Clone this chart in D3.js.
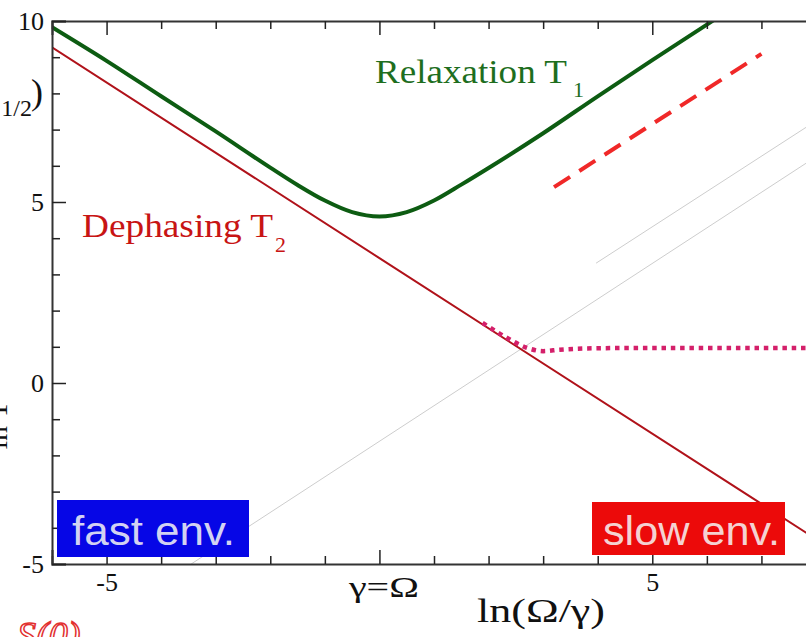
<!DOCTYPE html>
<html>
<head>
<meta charset="utf-8">
<script src="https://cdn.jsdelivr.net/npm/d3@7"></script>
<style>
    body { margin: 0; background: #fff; }
    svg { display: block; }
</style>
</head>
<body>
<svg id="chart" width="806" height="637"></svg>
<script>
/*************************************************************************************************************
 * Data
 *************************************************************************************************************/
// relaxation T1 (thick green)
let t1X = [-6, -5, -4, -3, -2, -1.5, -1, -0.5, 0, 0.5, 1, 1.5, 2, 3, 4, 5, 6, 6.3];
let t1Y = [9.83, 8.9, 7.92, 6.95, 5.95, 5.47, 5.04, 4.72, 4.6, 4.72, 5.04, 5.48, 5.94, 6.9, 7.92, 8.92, 9.9, 10.2];

// dephasing T2 (thin dark red, straight)
let t2X = [-6, 0, 8];
let t2Y = [9.27, 3.45, -4.31];

// red dashed asymptote
let dashX = [3.2, 7.0];
let dashY = [5.41, 9.09];

// magenta dotted curve
let dotX = [1.89, 2.3, 2.69, 3.0, 3.3, 4, 5, 8];
let dotY = [1.66, 1.28, 0.98, 0.88, 0.92, 0.96, 0.97, 0.97];

// faint grey guide lines
let guideAX = [-3.45, 8];
let guideAY = [-5, 6.25];
let guideBX = [3.97, 8];
let guideBY = [3.31, 7.24];

// ticks
let xMajor = [-5, 0, 5];
let xMajorLabels = ['-5', 'γ=Ω', '5'];
let xMinor = [-6, -4, -3, -2, -1, 1, 2, 3, 4, 6, 7];
let yMajor = [-5, 0, 5, 10];
let yMajorLabels = ['-5', '0', '5', '10'];
let yMinor = [-4, -3, -2, -1, 1, 2, 3, 4, 6, 7, 8, 9];

/*************************************************************************************************************
 * Drawing
 *************************************************************************************************************/
let svg = d3.select('#chart');
let serif = '"Liberation Serif", "Times New Roman", serif';
let sans = '"Liberation Sans", Arial, sans-serif';

let x = d3.scaleLinear().domain([-6, 8]).range([52, 816]);
let y = d3.scaleLinear().domain([-5, 10]).range([564, 21]);

svg.append('clipPath').attr('id', 'plot-clip')
    .append('rect')
    .attr('x', x(-6)).attr('y', y(10))
    .attr('width', x(8) - x(-6)).attr('height', y(-5) - y(10));

let zip = (xs, ys) => xs.map((v, i) => [v, ys[i]]);

let line = d3.line()
    .x(d => x(d[0]))
    .y(d => y(d[1]));

let smooth = d3.line()
    .curve(d3.curveMonotoneX)
    .x(d => x(d[0]))
    .y(d => y(d[1]));

let plot = svg.append('g').attr('clip-path', 'url(#plot-clip)');

// guide lines
plot.append('path').attr('d', line(zip(guideAX, guideAY)))
    .attr('fill', 'none').attr('stroke', '#cdcdcd').attr('stroke-width', 1);
plot.append('path').attr('d', line(zip(guideBX, guideBY)))
    .attr('fill', 'none').attr('stroke', '#cdcdcd').attr('stroke-width', 1);

// dephasing
plot.append('path').attr('d', line(zip(t2X, t2Y)))
    .attr('fill', 'none').attr('stroke', '#b0121a').attr('stroke-width', 2);

// dotted
plot.append('path').attr('d', smooth(zip(dotX, dotY)))
    .attr('fill', 'none').attr('stroke', '#d4206a').attr('stroke-width', 4.5)
    .attr('stroke-dasharray', '4.5,4.8');

// dashed
plot.append('path').attr('d', line(zip(dashX, dashY)))
    .attr('fill', 'none').attr('stroke', '#f02828').attr('stroke-width', 4)
    .attr('stroke-dasharray', '19,11');

// relaxation
plot.append('path').attr('d', smooth(zip(t1X, t1Y)))
    .attr('fill', 'none').attr('stroke', '#0d5c12').attr('stroke-width', 4);

/*************************************************************************************************************
 * Axes
 *************************************************************************************************************/
function styleAxis(g) {
    g.selectAll('.domain').attr('stroke', '#333').attr('stroke-width', 2);
    g.selectAll('.tick line').attr('stroke', '#222').attr('stroke-width', 1.5);
    g.selectAll('.tick text').attr('fill', '#111').style('font-family', serif).style('font-size', '26px');
}

// bottom
let bottomMajor = svg.append('g')
    .attr('transform', 'translate(0,' + y(-5) + ')')
    .call(d3.axisBottom(x).tickValues(xMajor).tickSize(-14).tickPadding(9)
        .tickFormat((d, i) => xMajorLabels[i]));
styleAxis(bottomMajor);
bottomMajor.selectAll('.tick text').filter(d => d === 0)
    .style('font-size', '29px')
    .attr('textLength', 70).attr('lengthAdjust', 'spacingAndGlyphs').attr('x', 4).attr('y', 12);
svg.append('g')
    .attr('transform', 'translate(0,' + y(-5) + ')')
    .call(d3.axisBottom(x).tickValues(xMinor).tickSize(-8).tickFormat(''))
    .call(g => g.select('.domain').remove())
    .call(styleAxis);

// top
let topMajor = svg.append('g')
    .attr('transform', 'translate(0,' + y(10) + ')')
    .call(d3.axisTop(x).tickValues(xMajor).tickSize(-14).tickFormat(''));
styleAxis(topMajor);
svg.append('g')
    .attr('transform', 'translate(0,' + y(10) + ')')
    .call(d3.axisTop(x).tickValues(xMinor).tickSize(-8).tickFormat(''))
    .call(g => g.select('.domain').remove())
    .call(styleAxis);

// left
let leftMajor = svg.append('g')
    .attr('transform', 'translate(' + x(-6) + ',0)')
    .call(d3.axisLeft(y).tickValues(yMajor).tickSize(-14).tickPadding(8)
        .tickFormat((d, i) => yMajorLabels[i]));
styleAxis(leftMajor);
svg.append('g')
    .attr('transform', 'translate(' + x(-6) + ',0)')
    .call(d3.axisLeft(y).tickValues(yMinor).tickSize(-8).tickFormat(''))
    .call(g => g.select('.domain').remove())
    .call(styleAxis);

// x axis title
svg.append('text')
    .attr('x', 477).attr('y', 622)
    .attr('textLength', 128).attr('lengthAdjust', 'spacingAndGlyphs')
    .style('font-family', serif).style('font-size', '34px').attr('fill', '#111')
    .text('ln(Ω/γ)');

/*************************************************************************************************************
 * Labels
 *************************************************************************************************************/
svg.append('text')
    .attr('x', 375).attr('y', 83)
    .attr('textLength', 192).attr('lengthAdjust', 'spacingAndGlyphs')
    .style('font-family', serif).style('font-size', '33px').attr('fill', '#1e6e1e')
    .text('Relaxation T');
svg.append('text')
    .attr('x', 573).attr('y', 97)
    .style('font-family', serif).style('font-size', '22px').attr('fill', '#1e6e1e')
    .text('1');

svg.append('text')
    .attr('x', 82).attr('y', 237)
    .attr('textLength', 191).attr('lengthAdjust', 'spacingAndGlyphs')
    .style('font-family', serif).style('font-size', '33px').attr('fill', '#c81414')
    .text('Dephasing T');
svg.append('text')
    .attr('x', 275).attr('y', 252)
    .style('font-family', serif).style('font-size', '22px').attr('fill', '#c81414')
    .text('2');

// environment boxes
svg.append('rect')
    .attr('x', 57).attr('y', 500).attr('width', 192).attr('height', 57)
    .attr('fill', '#0606e6');
svg.append('text')
    .attr('x', 72).attr('y', 545)
    .attr('textLength', 163).attr('lengthAdjust', 'spacingAndGlyphs')
    .style('font-family', sans).style('font-size', '40px').attr('fill', '#d2d2f2')
    .text('fast env.');

svg.append('rect')
    .attr('x', 592).attr('y', 502).attr('width', 193).attr('height', 53)
    .attr('fill', '#ec0a0a');
svg.append('text')
    .attr('x', 603).attr('y', 545)
    .attr('textLength', 177).attr('lengthAdjust', 'spacingAndGlyphs')
    .style('font-family', sans).style('font-size', '40px').attr('fill', '#f4d2d2')
    .text('slow env.');

/*************************************************************************************************************
 * Fragments of the surrounding page, cut by the crop
 *************************************************************************************************************/
svg.append('text')
    .attr('x', 32).attr('y', 116).attr('text-anchor', 'end')
    .style('font-family', serif).style('font-size', '24px').attr('fill', '#111')
    .text('1/2');
svg.append('text')
    .attr('x', 31).attr('y', 104)
    .style('font-family', serif).style('font-size', '36px').attr('fill', '#111')
    .text(')');
svg.append('text')
    .attr('transform', 'translate(7,425) rotate(-90)')
    .attr('text-anchor', 'middle')
    .style('font-family', serif).style('font-size', '30px').attr('fill', '#111')
    .text('ln T');
svg.append('text')
    .attr('x', 17).attr('y', 648)
    .style('font-family', serif).style('font-style', 'italic').style('font-size', '38px')
    .attr('fill', '#fff').attr('stroke', '#e23030').attr('stroke-width', 1.5)
    .text('S(0)');
</script>
</body>
</html>
